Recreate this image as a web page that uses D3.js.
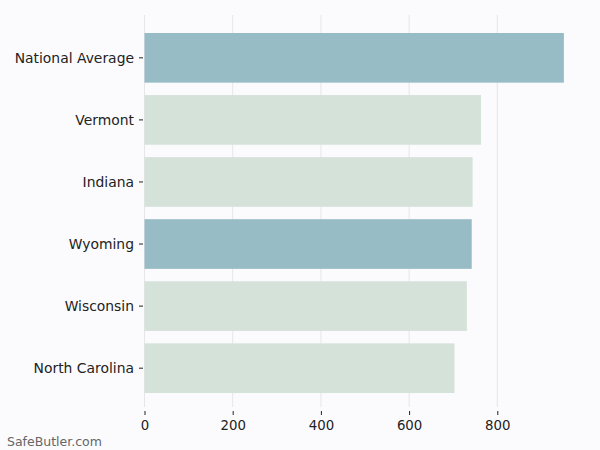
<!DOCTYPE html>
<html>
<head>
<meta charset="utf-8">
<script src="https://cdn.jsdelivr.net/npm/d3@7"></script>
<style>
  html, body { margin: 0; padding: 0; background: #fbfbfd; }
  svg { display: block; }
  text { font-family: "DejaVu Sans", sans-serif; }
</style>
</head>
<body>
<svg id="chart" width="600" height="450"></svg>
<script>
const categories = ["National Average", "Vermont", "Indiana", "Wyoming", "Wisconsin", "North Carolina"];
const values = [951, 763, 744, 742, 731, 703];
const highlighted = [true, false, false, true, false, false];
const xTicks = [0, 200, 400, 600, 800];
const watermark = "SafeButler.com";

const svg = d3.select("#chart");
const W = 600, H = 450;
svg.append("rect").attr("width", W).attr("height", H).attr("fill", "#fbfbfd");

const x = d3.scaleLinear().domain([0, 800]).range([144.5, 497.3]);
const y = d3.scaleBand().domain(categories).range([15, 411]).paddingInner(0.2).paddingOuter(0.29);

// gridlines
svg.append("g").selectAll("line").data(xTicks).join("line")
  .attr("x1", d => x(d)).attr("x2", d => x(d))
  .attr("y1", 15).attr("y2", 407)
  .attr("stroke", "#e6e6e8").attr("stroke-width", 1);

// bars
svg.append("g").selectAll("rect").data(categories).join("rect")
  .attr("x", x(0))
  .attr("y", d => y(d))
  .attr("width", (d, i) => x(values[i]) - x(0))
  .attr("height", y.bandwidth())
  .attr("fill", (d, i) => highlighted[i] ? "#97bcc5" : "#d5e2da");

// x axis
const xAxis = d3.axisBottom(x).tickValues(xTicks).tickSize(4).tickPadding(6).tickFormat(d3.format("d"));
const gx = svg.append("g").attr("transform", "translate(0,411)").call(xAxis);
gx.select(".domain").remove();
gx.selectAll(".tick line").attr("stroke", "#222").attr("stroke-width", 1);
gx.selectAll(".tick text").attr("font-size", 13.3).attr("fill", "#222")
  .attr("font-family", "DejaVu Sans, sans-serif");

// y axis
const yAxis = d3.axisLeft(y).tickSize(4).tickPadding(5);
const gy = svg.append("g").attr("transform", "translate(143,0)").call(yAxis);
gy.select(".domain").remove();
gy.selectAll(".tick line").attr("stroke", "#222").attr("stroke-width", 1);
gy.selectAll(".tick text").attr("font-size", 13.9).attr("fill", "#222")
  .attr("dy", "0.36em")
  .attr("font-family", "DejaVu Sans, sans-serif");

// watermark
svg.append("text").attr("x", 7).attr("y", 446)
  .attr("font-size", 12.5).attr("fill", "#666")
  .text(watermark);
</script>
</body>
</html>
